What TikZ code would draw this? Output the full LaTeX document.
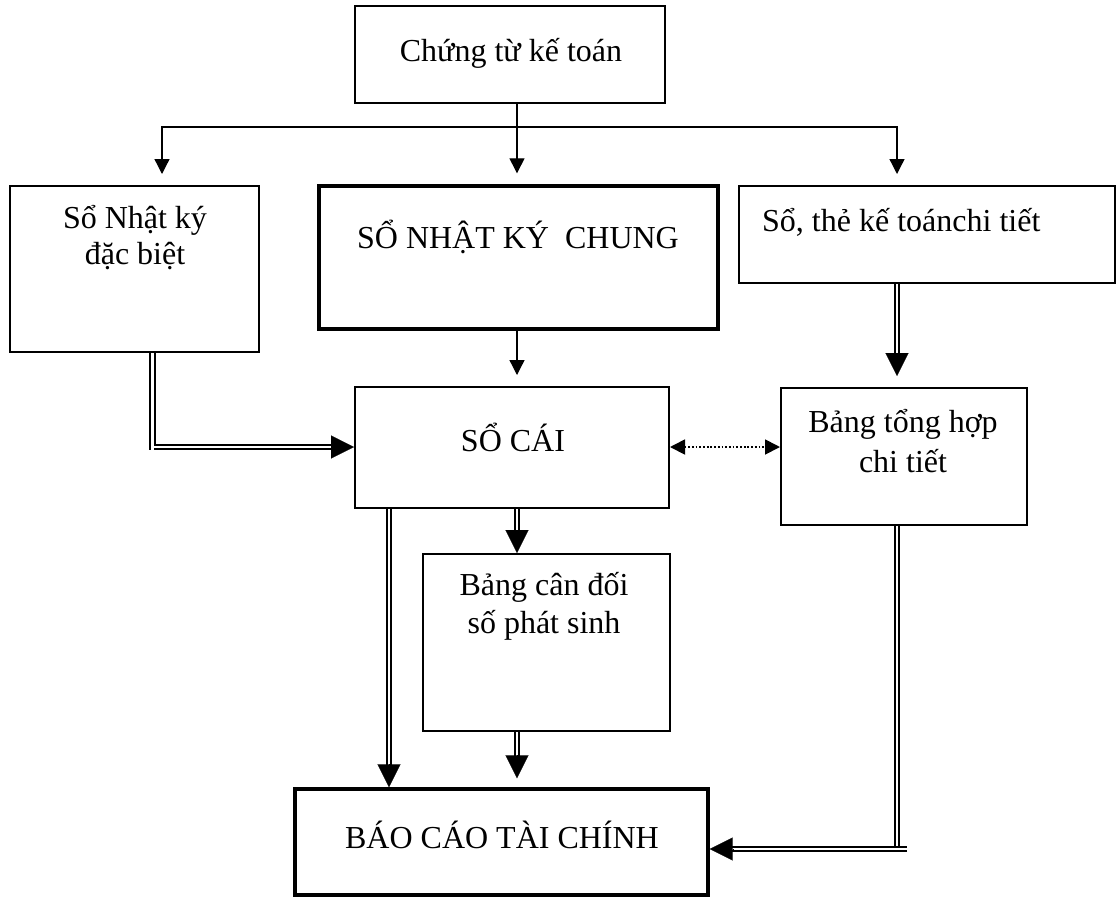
\documentclass[tikz,border=0pt]{standalone}
\usepackage{fontspec}
\setmainfont{Liberation Serif}
\usetikzlibrary{arrows.meta,calc}

% double-line arrow: #1 gap left before the target, #2 source point, #3 target point
\newcommand{\dblarrow}[3]{%
  \pgfmathsetmacro\tipback{#1+23}%
  \pgfmathsetmacro\lineback{#1+21}%
  \draw[dbl, shorten >=\lineback pt] (#2) -- (#3);
  \draw[dbltip, shorten >=#1pt] ($(#3)!\tipback pt!(#2)$) -- (#3);
}

\begin{document}
\begin{tikzpicture}[x=1pt,y=-1pt,
  box/.style={draw=black, line width=2pt, rectangle, inner sep=0pt},
  heavybox/.style={box, line width=3.4pt},
  lbl/.style={font=\fontsize{32}{38}\selectfont, inner sep=0pt, anchor=base},
  feed/.style={line width=1.3pt, -{Triangle[length=15pt,width=15pt]}},
  dbl/.style={draw=black, double=white, line width=1.7pt, double distance=2.8pt},
  dbltip/.style={line width=0.1pt, -{Triangle[length=23pt,width=23pt]}},
  link/.style={line width=1.8pt, dash pattern=on 1.8pt off 1.9pt,
    {Triangle[length=15pt,width=15pt]}-{Triangle[length=15pt,width=15pt]}},
]
\useasboundingbox (0,0) rectangle (1117,898);

% boxes
\node[box, minimum width=310pt, minimum height=97pt] (ct) at (510,54.5) {};
\node[box, minimum width=249pt, minimum height=166pt] (nkdb) at (134.5,269) {};
\node[heavybox, minimum width=399pt, minimum height=143pt] (nkc) at (518.5,257.5) {};
\node[box, minimum width=376pt, minimum height=97pt] (sct) at (927,234.5) {};
\node[box, minimum width=314pt, minimum height=121pt] (sc) at (512,447.5) {};
\node[box, minimum width=246pt, minimum height=137pt] (bth) at (904,456.5) {};
\node[box, minimum width=247pt, minimum height=177pt] (bcd) at (546.5,642.5) {};
\node[heavybox, minimum width=413pt, minimum height=106pt] (bctc) at (501.5,842) {};

% labels
\node[lbl] (ct-t) at (511,61) {Chứng từ kế toán};
\node[lbl] (nkdb-t1) at (135,228) {Sổ Nhật ký};
\node[lbl] (nkdb-t2) at (135,264) {đặc biệt};
\node[lbl] (nkc-t) at (518,248) {SỔ NHẬT KÝ\ \ CHUNG};
\node[lbl, anchor=base west] (sct-t) at (762,231) {Sổ, thẻ kế toánchi tiết};
\node[lbl] (sc-t) at (513,451) {SỔ CÁI};
\node[lbl] (bth-t1) at (903,432) {Bảng tổng hợp};
\node[lbl] (bth-t2) at (903,472) {chi tiết};
\node[lbl] (bcd-t1) at (544,595) {Bảng cân đối};
\node[lbl] (bcd-t2) at (544,633) {số phát sinh};
\node[lbl] (bctc-t) at (502,848) {BÁO CÁO TÀI CHÍNH};

% guide columns and rows for the connectors
\coordinate (colL) at (162,0);
\coordinate (colM) at (517,0);
\coordinate (colR) at (897,0);
\coordinate (colA) at (389,0);
\coordinate (colD) at (152.5,0);
\coordinate (rowBus) at (0,127);
\coordinate (rowSC) at (0,447);
\coordinate (rowR) at (0,849);
\coordinate (elbowL) at (152.5,450);
\coordinate (startL) at (154,447);
\coordinate (elbowR) at (897,850);
\coordinate (startR) at (907,849);

% distribution from the source documents
\draw[feed, shorten >=11pt] (ct.south -| colM) -- (nkc.north -| colM);
\draw[feed, shorten >=11pt] (colM |- rowBus) -| (nkdb.north -| colL);
\draw[feed, shorten >=11pt] (colM |- rowBus) -| (sct.north -| colR);

% general journal to ledger
\draw[feed, shorten >=11pt] (nkc.south -| colM) -- (sc.north -| colM);

% special journal to ledger
\draw[dbl] (nkdb.south -| colD) -- (elbowL);
\dblarrow{0}{startL}{sc.west |- rowSC}

% detail books to summary table
\dblarrow{11}{sct.south -| colR}{bth.north -| colR}

% reconciliation between ledger and summary table
\draw[link] (sc.east |- rowSC) -- (bth.west |- rowSC);

% ledger to trial balance and reports
\dblarrow{0}{sc.south -| colM}{bcd.north -| colM}
\dblarrow{0}{sc.south -| colA}{bctc.north -| colA}
\dblarrow{9}{bcd.south -| colM}{bctc.north -| colM}

% summary table to reports
\draw[dbl] (bth.south -| colR) -- (elbowR);
\dblarrow{0}{startR}{bctc.east |- rowR}

\end{tikzpicture}
\end{document}
